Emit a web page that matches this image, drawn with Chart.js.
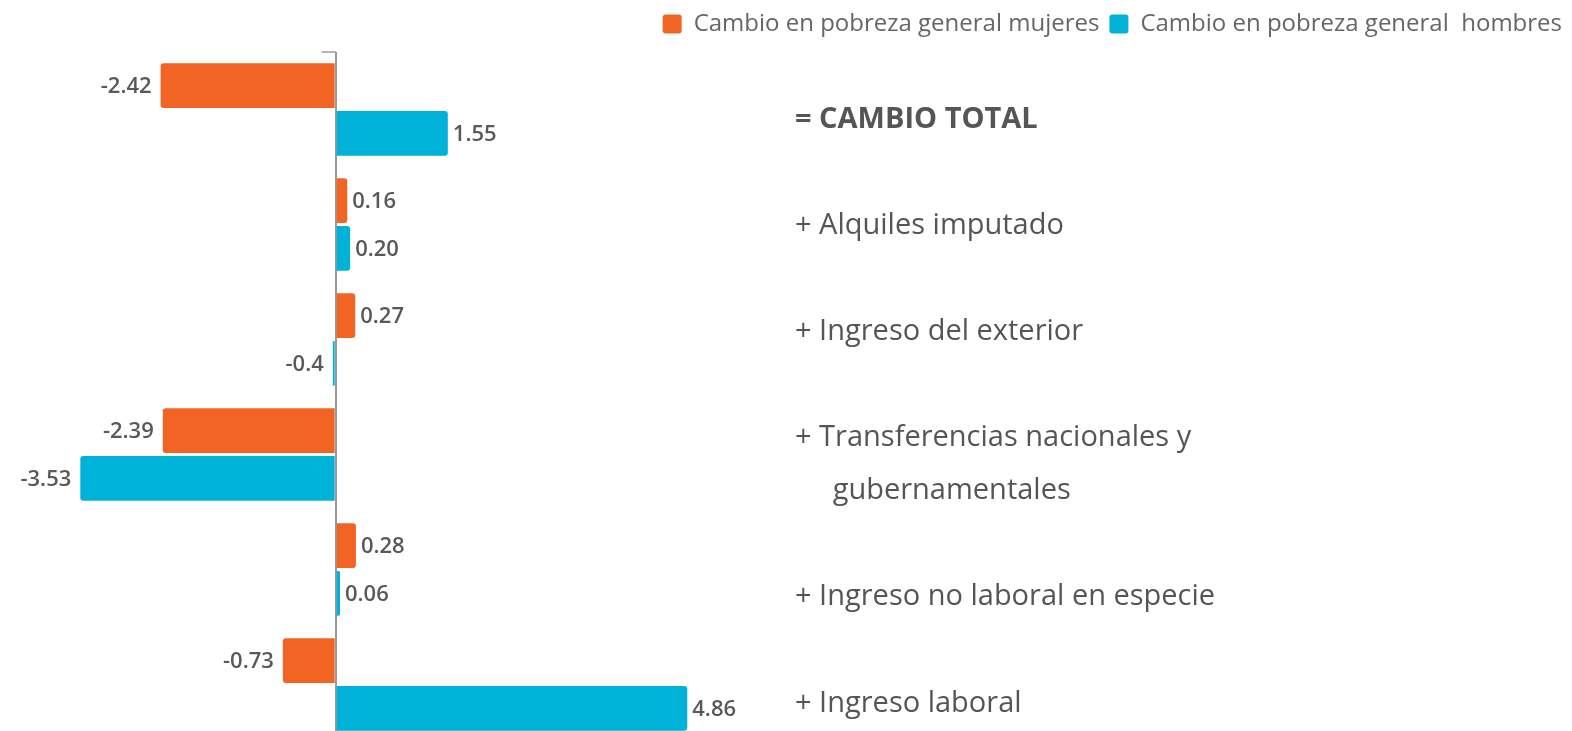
<!DOCTYPE html>
<html>
<head>
<meta charset="utf-8">
<script src="https://cdn.jsdelivr.net/npm/chart.js@4/dist/chart.umd.min.js"></script>
<style>
  html, body { margin: 0; padding: 0; background: #fff; overflow: hidden; }
  /* the last bar runs off the bottom edge of the picture, so the drawing area is a bit taller than the window */
  #wrap { width: 1572px; height: 742px; position: relative; }
</style>
</head>
<body>
<div id="wrap"><canvas id="chart"></canvas></div>
<script>
// categories (top to bottom)
const categories = [
    '= CAMBIO TOTAL',
    '+ Alquiles imputado',
    '+ Ingreso del exterior',
    ['+ Transferencias nacionales y', '     gubernamentales'],
    '+ Ingreso no laboral en especie',
    '+ Ingreso laboral'
];

// series values
const mujeres = [-2.42, 0.16, 0.27, -2.39, 0.28, -0.73];
const hombres = [1.55, 0.20, -0.04, -3.53, 0.06, 4.86];

// value labels as printed on the chart
const mujeresLabels = ['-2.42', '0.16', '0.27', '-2.39', '0.28', '-0.73'];
const hombresLabels = ['1.55', '0.20', '-0.4', '-3.53', '0.06', '4.86'];

const seriesNames = ['Cambio en pobreza general mujeres', 'Cambio en pobreza general  hombres'];
const ORANGE = '#F26424';
const BLUE = '#00B2D8';
const FONT = "'Open Sans', sans-serif";

// the category names on the right read like a text column: one blank line after each entry
const labelLines = categories.flatMap(c => [].concat(c, ''));

// a bit more room under the legend
const legendSpace = {
    id: 'legendSpace',
    beforeInit(chart) {
        const fit = chart.legend.fit;
        chart.legend.fit = function() {
            fit.call(this);
            this.height += 6;
        };
    }
};

// draws the value next to each bar end, plus the little tick on top of the axis
const valueLabels = {
    id: 'valueLabels',
    afterDatasetsDraw(chart) {
        const ctx = chart.ctx;
        const texts = [mujeresLabels, hombresLabels];
        ctx.save();
        ctx.font = '600 22px ' + FONT;
        ctx.fillStyle = '#595959';
        ctx.textBaseline = 'middle';
        chart.data.datasets.forEach((ds, di) => {
            chart.getDatasetMeta(di).data.forEach((bar, i) => {
                const v = ds.data[i];
                if (v < 0) {
                    ctx.textAlign = 'right';
                    ctx.fillText(texts[di][i], bar.x - 9, bar.y + 1);
                } else {
                    ctx.textAlign = 'left';
                    ctx.fillText(texts[di][i], bar.x + 5, bar.y + 1);
                }
            });
        });
        const x0 = chart.scales.x.getPixelForValue(0);
        const top = chart.chartArea.top;
        ctx.strokeStyle = '#9a9a9a';
        ctx.lineWidth = 1.5;
        ctx.beginPath();
        ctx.moveTo(x0 - 14, top);
        ctx.lineTo(x0, top);
        ctx.stroke();
        ctx.restore();
    }
};

const ctx = document.getElementById('chart').getContext('2d');
new Chart(ctx, {
    type: 'bar',
    data: {
        labels: categories,
        datasets: [{
            label: seriesNames[0],
            data: mujeres,
            backgroundColor: ORANGE,
            borderRadius: 3,
            barPercentage: 0.94,
            categoryPercentage: 0.83
        }, {
            label: seriesNames[1],
            data: hombres,
            backgroundColor: BLUE,
            borderRadius: 3,
            barPercentage: 0.94,
            categoryPercentage: 0.83
        }]
    },
    options: {
        indexAxis: 'y',
        responsive: true,
        maintainAspectRatio: false,
        animation: false,
        layout: { padding: { top: 2, right: 0, left: 0, bottom: 0 } },
        scales: {
            x: {
                min: -4.64,
                max: 6.28,
                ticks: { display: false },
                border: { display: false },
                afterFit: scale => { scale.height = 0; },
                grid: {
                    drawTicks: false,
                    lineWidth: 2,
                    color: c => (c.tick && c.tick.value === 0 ? '#9a9a9a' : 'rgba(0,0,0,0)')
                }
            },
            y: {
                display: false
            },
            yText: {
                type: 'category',
                labels: labelLines,
                position: 'right',
                offset: true,
                grid: { display: false, drawTicks: false },
                border: { display: false },
                afterFit: scale => {
                    scale.width = 1572 - 790;
                    scale.paddingTop = 0;
                    scale.paddingBottom = 0;
                },
                ticks: {
                    autoSkip: false,
                    padding: 5,
                    labelOffset: 41,
                    color: '#555555',
                    font: c => ({
                        family: FONT,
                        size: 29,
                        weight: c.index === 0 ? 'bold' : 'normal'
                    })
                }
            }
        },
        plugins: {
            legend: {
                position: 'top',
                align: 'end',
                labels: {
                    boxWidth: 19,
                    boxHeight: 19,
                    useBorderRadius: true,
                    borderRadius: 3,
                    padding: 10,
                    color: '#666666',
                    font: { family: FONT, size: 24 }
                }
            },
            tooltip: { enabled: false }
        }
    },
    plugins: [legendSpace, valueLabels]
});
</script>
</body>
</html>
